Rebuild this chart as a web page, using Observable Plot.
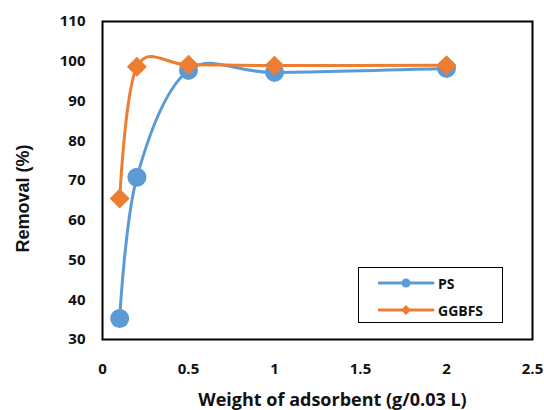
<!DOCTYPE html>
<html>
<head>
<meta charset="utf-8">
<script src="https://cdn.jsdelivr.net/npm/d3@7"></script>
<script src="https://cdn.jsdelivr.net/npm/@observablehq/plot@0.6"></script>
<style>
  html, body { margin: 0; padding: 0; background: #fff; }
  #wrap { position: relative; width: 544px; height: 410px; }
  #legend {
    position: absolute; left: 358px; top: 267px; width: 143px; height: 54px;
    border: 1.5px solid #000; background: #fff; box-sizing: content-box;
    font-family: "Open Sans", sans-serif; font-weight: bold; font-size: 14px; color: #111;
  }
  #legend .row { position: absolute; left: 0; display: flex; align-items: center; height: 20px; }
  #legend svg { display: block; }
</style>
</head>
<body>
<div id="wrap"></div>
<script>
const weights = [0.1, 0.2, 0.5, 1, 2];
const psRemoval = [35.3, 70.8, 97.7, 97.2, 98.2];
const ggbfsRemoval = [65.5, 98.6, 99.1, 98.9, 99.0];
const seriesNames = ["PS", "GGBFS"];
const seriesColors = ["#5B9BD5", "#ED7D31"];
const xTicks = [0, 0.5, 1, 1.5, 2, 2.5];
const yTicks = [30, 40, 50, 60, 70, 80, 90, 100, 110];
const xLabel = "Weight of adsorbent (g/0.03 L)";
const yLabel = "Removal (%)";

const ps = weights.map((w, i) => ({x: w, y: psRemoval[i]}));
const gg = weights.map((w, i) => ({x: w, y: ggbfsRemoval[i]}));

const chart = Plot.plot({
  width: 544,
  height: 410,
  marginLeft: 102,
  marginRight: 12,
  marginTop: 21,
  marginBottom: 71,
  style: {fontFamily: "Open Sans, sans-serif", fontWeight: "bold", fontSize: "15px", color: "#111", background: "#fff"},
  x: {domain: [0, 2.5], ticks: xTicks, tickFormat: d => String(d), tickSize: 0, tickPadding: 24, label: null},
  y: {domain: [30, 110], ticks: yTicks, tickSize: 0, tickPadding: 17, label: null},
  marks: [
    Plot.line(ps, {x: "x", y: "y", curve: "cardinal", stroke: seriesColors[0], strokeWidth: 3}),
    Plot.dot(ps, {x: "x", y: "y", r: 9.5, fill: seriesColors[0], stroke: "none"}),
    Plot.line(gg, {x: "x", y: "y", curve: "cardinal", stroke: seriesColors[1], strokeWidth: 3}),
    Plot.dot(gg, {x: "x", y: "y", r: 9, symbol: "diamond2", fill: seriesColors[1], stroke: "none"}),
    Plot.frame({stroke: "#000", strokeWidth: 2}),
    Plot.text([xLabel], {text: d => d, frameAnchor: "bottom", dx: 15, dy: 66, fontSize: 18, fontWeight: "bold"}),
    Plot.text([yLabel], {text: d => d, frameAnchor: "left", textAnchor: "middle", rotate: -90, dx: -79, dy: 18, fontSize: 18, fontWeight: "bold", fontFamily: "Liberation Sans, Arial, sans-serif"})
  ]
});

const wrap = document.getElementById("wrap");
wrap.appendChild(chart);

// Legend
const legend = document.createElement("div");
legend.id = "legend";
const symbols = ["circle", "diamond"];
seriesNames.forEach((name, i) => {
  const row = document.createElement("div");
  row.className = "row";
  row.style.top = (i === 0 ? 5 : 32) + "px";
  row.style.left = "19px";
  const s = d3.create("svg").attr("width", 60).attr("height", 20);
  s.append("line").attr("x1", 1).attr("x2", 55).attr("y1", 10).attr("y2", 10)
    .attr("stroke", seriesColors[i]).attr("stroke-width", 3).attr("stroke-linecap", "round");
  if (symbols[i] === "circle") {
    s.append("circle").attr("cx", 28).attr("cy", 10).attr("r", 4.5).attr("fill", seriesColors[i]);
  } else {
    s.append("path").attr("d", "M28,5L33,10L28,15L23,10Z").attr("fill", seriesColors[i]);
  }
  row.appendChild(s.node());
  const t = document.createElement("span");
  t.textContent = name;
  row.appendChild(t);
  legend.appendChild(row);
});
wrap.appendChild(legend);
</script>
</body>
</html>
